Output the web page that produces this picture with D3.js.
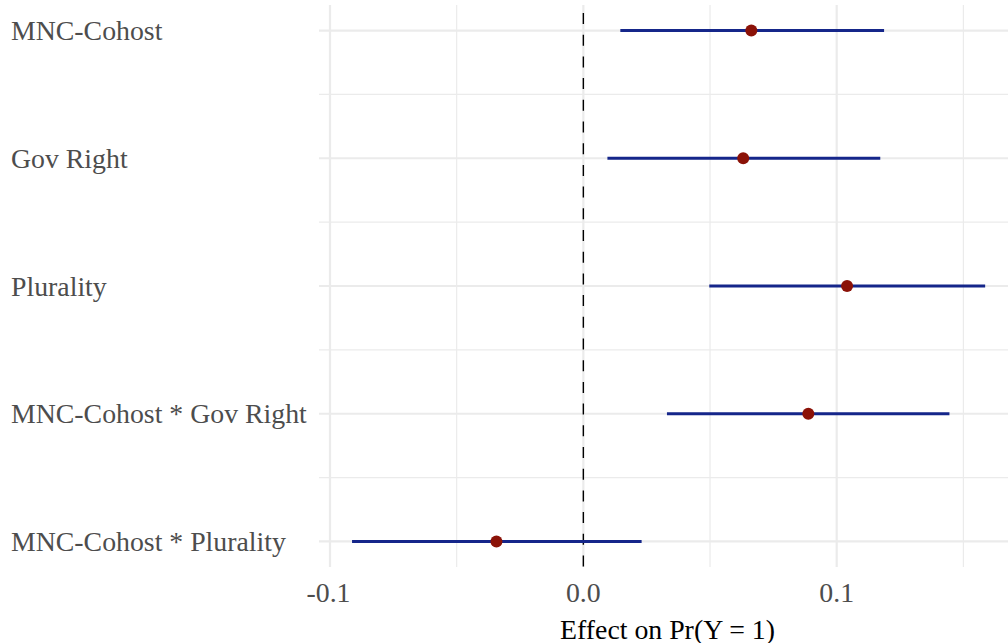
<!DOCTYPE html>
<html>
<head>
<meta charset="utf-8">
<script src="https://cdn.jsdelivr.net/npm/d3@7"></script>
<style>
  html, body { margin: 0; padding: 0; background: #fff; }
  svg { display: block; }
</style>
</head>
<body>
<svg id="chart" width="1008" height="643"></svg>
<script>
// Coefficient estimates with confidence intervals (marginal effect on Pr(Y = 1))
const terms = ["MNC-Cohost", "Gov Right", "Plurality", "MNC-Cohost * Gov Right", "MNC-Cohost * Plurality"];
const estimates = [0.0663, 0.0631, 0.1041, 0.0888, -0.0343];
const lower = [0.0146, 0.0095, 0.0497, 0.0330, -0.0913];
const upper = [0.1187, 0.1172, 0.1586, 0.1445, 0.0230];
const xTicks = [-0.1, 0.0, 0.1];
const xMinor = [-0.05, 0.05, 0.15];
const xTitle = "Effect on Pr(Y = 1)";

const rows = terms.map((t, i) => ({ term: t, est: estimates[i], lo: lower[i], hi: upper[i] }));

const svg = d3.select("#chart");
const panel = { left: 319, right: 1008, top: 5, bottom: 567 };
const font = "'Liberation Serif', 'Times New Roman', serif";
const fontSize = 27.8;

const x = d3.scaleLinear().domain([-0.1, 0.1]).range([330, 836.7]);
const y = d3.scalePoint().domain(terms).range([panel.top, panel.bottom]).padding(0.2);
const step = y.step();

const grid = svg.append("g");
// minor horizontal grid lines (between categories)
grid.selectAll("line.hminor")
  .data(terms.slice(0, -1))
  .join("line")
  .attr("x1", panel.left).attr("x2", panel.right)
  .attr("y1", d => y(d) + step / 2).attr("y2", d => y(d) + step / 2)
  .attr("stroke", "#ebebeb").attr("stroke-width", 1.2);
// minor vertical grid lines
grid.selectAll("line.vminor")
  .data(xMinor)
  .join("line")
  .attr("x1", d => x(d)).attr("x2", d => x(d))
  .attr("y1", panel.top).attr("y2", panel.bottom)
  .attr("stroke", "#ebebeb").attr("stroke-width", 1.2);
// major horizontal grid lines
grid.selectAll("line.hmajor")
  .data(terms)
  .join("line")
  .attr("x1", panel.left).attr("x2", panel.right)
  .attr("y1", d => y(d)).attr("y2", d => y(d))
  .attr("stroke", "#ebebeb").attr("stroke-width", 2.2);
// major vertical grid lines
grid.selectAll("line.vmajor")
  .data(xTicks)
  .join("line")
  .attr("x1", d => x(d)).attr("x2", d => x(d))
  .attr("y1", panel.top).attr("y2", panel.bottom)
  .attr("stroke", "#ebebeb").attr("stroke-width", 2.2);

// reference line at zero
svg.append("line")
  .attr("x1", x(0)).attr("x2", x(0))
  .attr("y1", panel.top + 8).attr("y2", panel.bottom)
  .attr("stroke", "#000").attr("stroke-width", 1.4)
  .attr("stroke-dasharray", "11,10.7");

// confidence intervals
svg.append("g").selectAll("line")
  .data(rows)
  .join("line")
  .attr("x1", d => x(d.lo)).attr("x2", d => x(d.hi))
  .attr("y1", d => y(d.term)).attr("y2", d => y(d.term))
  .attr("stroke", "#15268a").attr("stroke-width", 3);

// point estimates
svg.append("g").selectAll("circle")
  .data(rows)
  .join("circle")
  .attr("cx", d => x(d.est)).attr("cy", d => y(d.term))
  .attr("r", 6)
  .attr("fill", "#8b1208");

// y-axis labels (left aligned)
svg.append("g").selectAll("text")
  .data(terms)
  .join("text")
  .attr("x", 11).attr("y", d => y(d) + 9.5)
  .attr("font-family", font).attr("font-size", fontSize)
  .attr("fill", "#4d4d4d")
  .text(d => d);

// x-axis tick labels (plain hyphen for the minus sign)
svg.append("g").selectAll("text")
  .data(xTicks)
  .join("text")
  .attr("x", d => x(d) - (d < 0 ? 1.5 : 0)).attr("y", 601.5)
  .attr("text-anchor", "middle")
  .attr("font-family", font).attr("font-size", fontSize)
  .attr("fill", "#4d4d4d")
  .text(d => d3.format(".1f")(d).replace("\u2212", "-"));

// x-axis title
svg.append("text")
  .attr("x", (panel.left + panel.right) / 2 + 4).attr("y", 638.5)
  .attr("text-anchor", "middle")
  .attr("font-family", font).attr("font-size", fontSize)
  .attr("fill", "#000")
  .text(xTitle);
</script>
</body>
</html>
